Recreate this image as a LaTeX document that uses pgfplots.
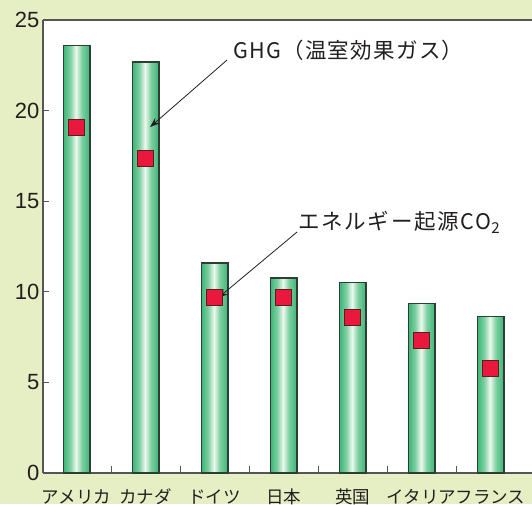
\documentclass[border=0pt]{standalone}
\usepackage{pgfplots}
\pgfplotsset{compat=1.18}
\usepackage{fontspec}
\setmainfont{Liberation Sans}
\newfontfamily\jp{Noto Sans CJK JP}
\usetikzlibrary{arrows.meta}
\definecolor{bg}{RGB}{230,238,196}
\definecolor{bargreen}{RGB}{58,180,118}
\definecolor{barmid}{RGB}{125,207,160}
\definecolor{barlight}{RGB}{236,248,238}
\definecolor{baredge}{RGB}{45,62,52}
\definecolor{mred}{RGB}{234,24,60}
\definecolor{mredge}{RGB}{90,28,30}
\definecolor{axgray}{RGB}{85,85,85}
\definecolor{txt}{RGB}{35,31,32}
\pgfdeclarehorizontalshading{barshade}{100bp}{color(0bp)=(bargreen); color(25bp)=(bargreen); color(38bp)=(barmid); color(49bp)=(barlight); color(60bp)=(barmid); color(75bp)=(bargreen); color(100bp)=(bargreen)}
\pgfplotsset{greenbar/.style={ybar, bar width=0.39, draw=baredge, line width=1.1pt,
  shading=barshade}}
\begin{document}
\begin{tikzpicture}
\useasboundingbox (0,0) rectangle (532pt,504pt);
\fill[bg] (0,0) rectangle (532pt,504pt);
\begin{axis}[
  at={(43pt,31pt)}, anchor=south west,
  scale only axis, width=489pt, height=453pt,
  xmin=-0.486, xmax=6.601, ymin=0, ymax=25,
  axis lines=left,
  axis line style={-, axgray, line width=1.3pt},
  axis background/.style={fill=white},
  xtick={0,...,6},
  xticklabels={アメリカ,カナダ,ドイツ,日本,英国,イタリア,フランス},
  minor xtick={0.5,1.5,...,5.5},
  major x tick style={draw=none},
  minor x tick style={axgray, line width=1pt},
  minor tick length=7pt,
  ytick={0,5,...,25},
  major tick length=6pt,
  y tick style={axgray, line width=1pt},
  tick align=inside,
  x tick label style={font=\jp\fontsize{17.5}{17.5}\selectfont, text=txt, anchor=base, yshift=-30pt},
  y tick label style={font=\fontsize{22}{22}\selectfont, text=txt},
  /pgf/number format/assume math mode=true,
  clip=false,
]
\addplot[greenbar] coordinates {(0,23.58)};
\addplot[greenbar] coordinates {(1,22.68)};
\addplot[greenbar] coordinates {(2,11.59)};
\addplot[greenbar] coordinates {(3,10.76)};
\addplot[greenbar] coordinates {(4,10.49)};
\addplot[greenbar] coordinates {(5,9.36)};
\addplot[greenbar] coordinates {(6,8.63)};
\addplot[only marks, mark=square*, mark size=8pt,
  mark options={fill=mred, draw=mredge, line width=1pt}]
  coordinates {(0,19.09) (1,17.35) (2,9.71) (3,9.71) (4,8.60) (5,7.34) (6,5.77)};
\draw[axgray, line width=1.3pt] (rel axis cs:0,1) -- (rel axis cs:1,1);
\node[anchor=west, inner sep=0pt, font=\jp\fontsize{21.5}{21.5}\selectfont, text=txt]
  at (axis cs:2.268,23.34) {\addfontfeature{LetterSpace=6}GHG（温室効果ガス）};
\draw[-{Stealth[length=10pt,width=7pt]}, line width=0.8pt, txt]
  (axis cs:2.181,22.79) -- (axis cs:1.065,19.09);
\node[anchor=west, inner sep=0pt, font=\jp\fontsize{21.5}{21.5}\selectfont, text=txt]
  at (axis cs:3.21,13.85) {\addfontfeature{LetterSpace=8}エネルギー起源CO\textsubscript{2}};
\draw[-{Stealth[length=10pt,width=7pt]}, line width=0.8pt, txt]
  (axis cs:3.196,13.30) -- (axis cs:2.051,9.66);
\end{axis}
\end{tikzpicture}
\end{document}
